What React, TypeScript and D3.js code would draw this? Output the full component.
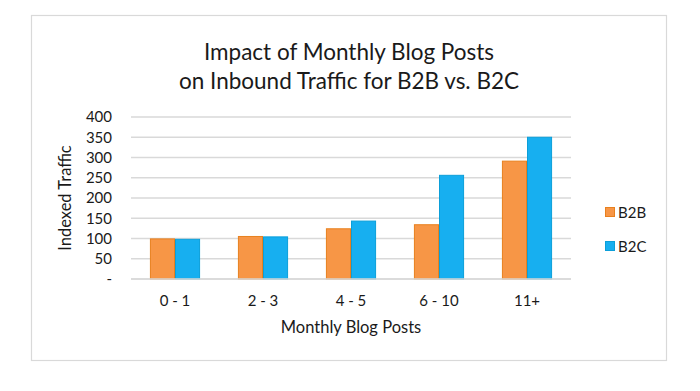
import React from 'react'
import * as d3 from 'd3'

const categories = ['0 - 1', '2 - 3', '4 - 5', '6 - 10', '11+']
const b2b = [99, 105, 124, 134, 291]
const b2c = [98, 104, 143, 256, 350]
const yTicks = [0, 50, 100, 150, 200, 250, 300, 350, 400]
const seriesNames = ['B2B', 'B2C']

const colors = ['#f79646', '#17aff0']
const strokes = ['#e8801e', '#0b9fd9']

const font = 'Lato, "Open Sans", sans-serif'

const App = () => {
  const width = 700, height = 391
  const margin = { top: 117, right: 129, bottom: 112, left: 131 }
  const innerW = width - margin.left - margin.right
  const innerH = height - margin.top - margin.bottom

  const x = d3.scaleBand().domain(categories).range([0, innerW]).paddingInner(0.43).paddingOuter(0.215)
  const xs = d3.scaleBand().domain(seriesNames).range([0, x.bandwidth()])
  const y = d3.scaleLinear().domain([0, 400]).range([innerH, 0])

  const series = [b2b, b2c]

  return (
    <svg width={width} height={height} style={{ position: 'absolute', left: 0, top: 0, background: '#fff' }}>
      <rect x={31.5} y={15.5} width={635} height={345} fill="#fff" stroke="#d9d9d9" strokeWidth={1.2} />
      <text x={349} y={60} textAnchor="middle" fontFamily={font} fontSize={22.5} fill="#1a1a1a">
        Impact of Monthly Blog Posts
      </text>
      <text x={349} y={89} textAnchor="middle" fontFamily={font} fontSize={22.5} fill="#1a1a1a">
        on Inbound Traffic for B2B vs. B2C
      </text>
      <g transform={`translate(${margin.left},${margin.top})`}>
        {yTicks.map(t => (
          <g key={t}>
            <line x1={0} x2={innerW} y1={y(t)} y2={y(t)} stroke="#d9d9d9" strokeWidth={1.3} />
            <text x={-19} y={y(t)} dy="0.36em" textAnchor="end" fontFamily={font} fontSize={15} fill="#1a1a1a">
              {t === 0 ? '-' : t}
            </text>
          </g>
        ))}
        {categories.map((c, i) => (
          <g key={c} transform={`translate(${x(c)},0)`}>
            {series.map((s, j) => (
              <rect
                key={j}
                x={xs(seriesNames[j])! + 0.5}
                y={y(s[i])}
                width={xs.bandwidth() - 1}
                height={innerH - y(s[i])}
                fill={colors[j]}
                stroke={strokes[j]}
                strokeWidth={1}
              />
            ))}
            <text x={x.bandwidth() / 2} y={innerH + 27} textAnchor="middle" fontFamily={font} fontSize={15} fill="#1a1a1a">
              {c}
            </text>
          </g>
        ))}
        <line x1={0} x2={innerW} y1={innerH} y2={innerH} stroke="#d9d9d9" strokeWidth={1.3} />
        <text x={innerW / 2} y={innerH + 54} textAnchor="middle" fontFamily={font} fontSize={16.5} fill="#1a1a1a">
          Monthly Blog Posts
        </text>
        <text
          transform={`translate(${-60},${innerH / 2}) rotate(-90)`}
          textAnchor="middle"
          fontFamily={font}
          fontSize={16.5}
          fill="#1a1a1a"
        >
          Indexed Traffic
        </text>
      </g>
      {seriesNames.map((n, j) => (
        <g key={n} transform={`translate(605,${207 + j * 34})`}>
          <rect x={0.5} y={0.5} width={9} height={9} fill={colors[j]} stroke={strokes[j]} />
          <text x={13} y={10.5} fontFamily={font} fontSize={15} fill="#1a1a1a">{n}</text>
        </g>
      ))}
    </svg>
  )
}

export default App
